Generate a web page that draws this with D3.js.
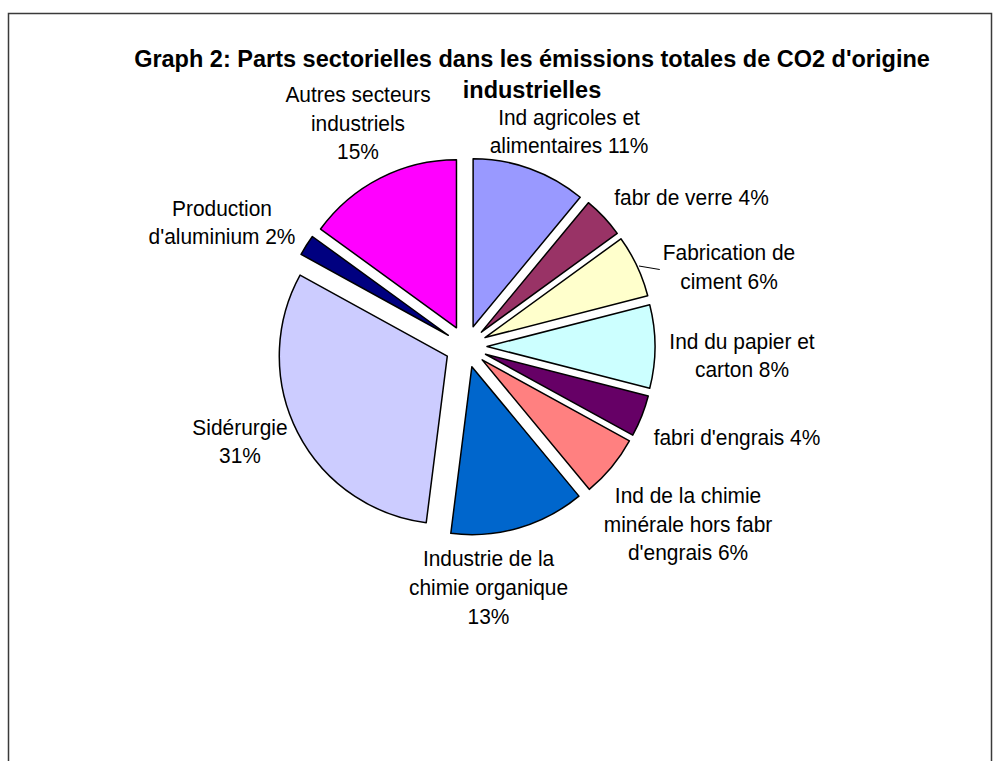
<!DOCTYPE html>
<html><head><meta charset="utf-8">
<script src="https://cdn.jsdelivr.net/npm/d3@7"></script>
<style>body{margin:0;background:#fff}svg{display:block}</style>
</head><body>
<svg id="chart" width="1001" height="761"></svg>
<script>
// ---- data ----
const categories = [
  "Ind agricoles et alimentaires",
  "fabr de verre",
  "Fabrication de ciment",
  "Ind du papier et carton",
  "fabri d'engrais",
  "Ind de la chimie minérale hors fabr d'engrais",
  "Industrie de la chimie organique",
  "Sidérurgie",
  "Production d'aluminium",
  "Autres secteurs industriels"
];
const values = [11, 4, 6, 8, 4, 6, 13, 31, 2, 15];
const labelLines = [
  ["Ind agricoles et", "alimentaires {p}"],
  ["fabr de verre {p}"],
  ["Fabrication de", "ciment {p}"],
  ["Ind du papier et", "carton {p}"],
  ["fabri d'engrais {p}"],
  ["Ind de la chimie", "minérale hors fabr", "d'engrais {p}"],
  ["Industrie de la", "chimie organique", "{p}"],
  ["Sidérurgie", "{p}"],
  ["Production", "d'aluminium {p}"],
  ["Autres secteurs", "industriels", "{p}"]
];
const titleLines = ["Graph 2: Parts sectorielles dans les émissions totales de CO2 d'origine", "industrielles"];

// ---- style / layout ----
const palette = ["#9999FF", "#993366", "#FFFFCC", "#CCFFFF", "#660066", "#FF8080", "#0066CC", "#CCCCFF", "#000080", "#FF00FF"];
const labelOffsets = [[39, -37.7], [87.7, -20.5], [92, 0.5], [87, 8.5], [95.3, 20.9], [76.4, 56.7], [-30.2, 59], [-57.6, 8.7], [-84.4, -23.1], [-22.2, -55.4]];
const leaders = [false, false, true, false, false, false, false, false, false, false];

const W = 1001, H = 761;
const FONT = "'Liberation Sans', Arial, Helvetica, sans-serif";
const svg = d3.select("#chart");
svg.append("rect").attr("width", W).attr("height", H).attr("fill", "#fff");
svg.append("rect").attr("x", 8.5).attr("y", 13.5).attr("width", 983).attr("height", 800)
  .attr("fill", "none").attr("stroke", "#3a3a3a").attr("stroke-width", 1.5);

// title
svg.append("g").selectAll("text").data(titleLines).join("text")
  .attr("x", 532).attr("y", (d, i) => 66.7 + i * 31.6)
  .attr("text-anchor", "middle")
  .attr("font-family", FONT).attr("font-weight", "bold").attr("font-size", 23.5)
  .attr("fill", "#000").text(d => d);

// pie
const cx = 466, cy = 346.5, r = 168, explode = 21;
const data = categories.map((c, i) => ({ name: c, value: values[i], lines: labelLines[i], color: palette[i], off: labelOffsets[i], leader: leaders[i] }));
const pie = d3.pie().sort(null).value(d => d.value).startAngle(0).endAngle(2 * Math.PI);
const arc = d3.arc().innerRadius(0).outerRadius(r);
const arcs = pie(data);
const mid = d => (d.startAngle + d.endAngle) / 2;

const g = svg.append("g").attr("transform", `translate(${cx},${cy})`);
g.selectAll("path").data(arcs).join("path")
  .attr("d", arc)
  .attr("transform", d => `translate(${explode * Math.sin(mid(d))},${-explode * Math.cos(mid(d))})`)
  .attr("fill", d => d.data.color)
  .attr("stroke", "#000").attr("stroke-width", 1.5).attr("stroke-linejoin", "round");

// labels
const LH = 28.7, FS = 22;
const lg = svg.append("g");
arcs.forEach(d => {
  const a = mid(d);
  const ox = cx + (r + explode) * Math.sin(a), oy = cy - (r + explode) * Math.cos(a);
  const bx = ox + d.data.off[0], by = oy + d.data.off[1];
  const lines = d.data.lines.map(s => s.replace("{p}", d.data.value + "%"));
  const n = lines.length;
  let maxW = 0;
  lines.forEach((s, i) => {
    const t = lg.append("text")
      .attr("x", bx).attr("y", by + (i - (n - 1) / 2) * LH + 8)
      .attr("text-anchor", "middle")
      .attr("font-family", FONT).attr("font-size", FS).attr("fill", "#000")
      .text(s);
    const w = t.node().getComputedTextLength();
    t.attr("textLength", w * 0.95).attr("lengthAdjust", "spacingAndGlyphs");
    maxW = Math.max(maxW, w * 0.95);
  });
  if (d.data.leader) {
    lg.append("line")
      .attr("x1", ox + 2).attr("y1", oy)
      .attr("x2", bx - maxW / 2 - 3).attr("y2", by + 3)
      .attr("stroke", "#000").attr("stroke-width", 1);
  }
});
</script>
</body></html>
